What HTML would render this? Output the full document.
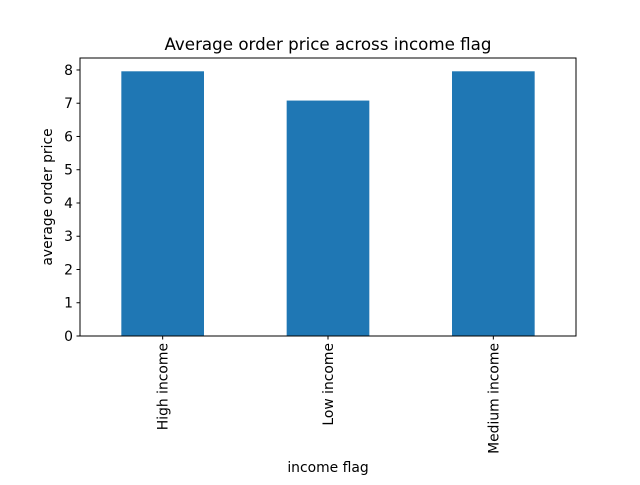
<!DOCTYPE html>
<html><head><meta charset="utf-8"><style>
body{margin:0;background:#fff;}
svg text{font-family:"DejaVu Sans","Liberation Sans",sans-serif;fill:#000;}
</style></head><body>
<svg id="chart" width="640" height="480" xmlns="http://www.w3.org/2000/svg">
<rect width="640" height="480" fill="#fff"/>
<text x="328" y="50" font-size="16.7" text-anchor="middle">Average order price across income flag</text>
<text x="328" y="472" font-size="13.9" text-anchor="middle">income flag</text>
<text transform="translate(52,197) rotate(-90)" font-size="13.9" text-anchor="middle">average order price</text>
<g id="bars"></g>
<g id="axes"></g>
</svg>
<script>
const categories = ["High income", "Low income", "Medium income"];
const values = [7.96, 7.08, 7.96];
const yTicks = [0, 1, 2, 3, 4, 5, 6, 7, 8];
const yMax = 8.36;

const L = 80, R = 576, T = 58, B = 336;
const NS = "http://www.w3.org/2000/svg";
const xScale = i => L + (i + 0.5) * (R - L) / categories.length;
const bw = 0.5 * (R - L) / categories.length;
const yScale = v => B - v / yMax * (B - T);
function mk(tag, attrs, parent) {
  const e = document.createElementNS(NS, tag);
  for (const k in attrs) e.setAttribute(k, attrs[k]);
  parent.appendChild(e);
  return e;
}
const bars = document.getElementById("bars");
const axes = document.getElementById("axes");
values.forEach((v, i) => {
  const r = mk("rect", {x: xScale(i) - bw / 2, y: yScale(v), width: bw, height: B - yScale(v), fill: "#1f77b4"}, bars);
  
  
});
const frame = mk("rect", {x: L, y: T, width: R - L, height: B - T, fill: "none", stroke: "#000", "stroke-width": 1}, axes);


yTicks.forEach(t => {
  const y = yScale(t);
  mk("line", {x1: L - 3.5, x2: L, y1: y, y2: y, stroke: "#000"}, axes);
  const tx = mk("text", {x: L - 7, y: y + 5, "font-size": 13.9, "text-anchor": "end"}, axes);
  tx.textContent = t;
  
  
});
categories.forEach((c, i) => {
  const x = xScale(i);
  mk("line", {x1: x, x2: x, y1: B, y2: B + 3.5, stroke: "#000"}, axes);
  const tx = mk("text", {transform: `translate(${x + 5},${B + 7}) rotate(-90)`, "font-size": 13.9, "text-anchor": "end"}, axes);
  tx.textContent = c;
  
  
});
</script>
</body></html>
